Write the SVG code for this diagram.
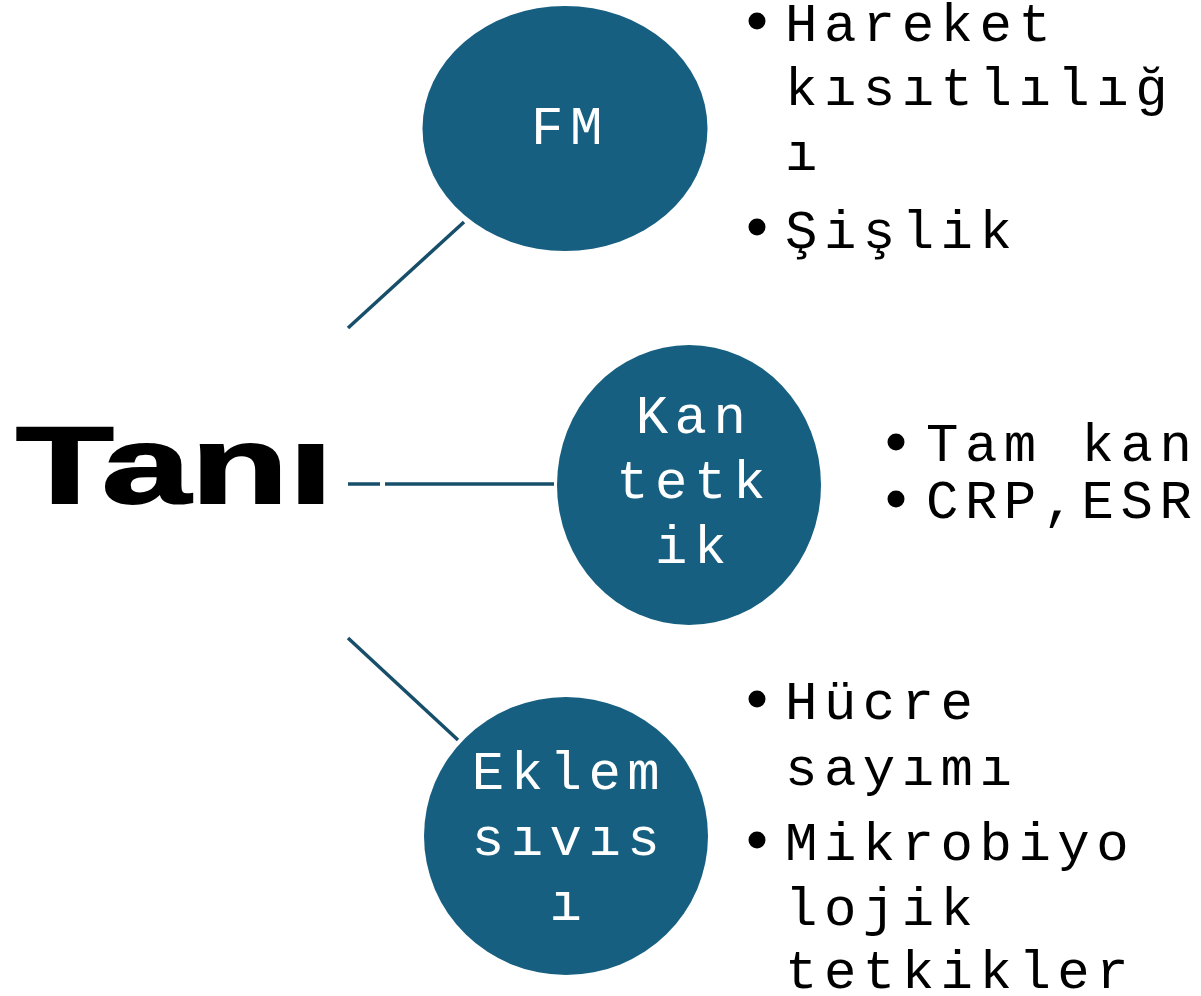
<svg xmlns="http://www.w3.org/2000/svg" width="1201" height="996" viewBox="0 0 1201 996">
  <style>
    .node { fill: #175F80; }
    .ntext { font-family: "Liberation Mono", "Courier New", monospace; font-size: 54px; letter-spacing: 6.5px; fill: #ffffff; text-anchor: middle; }
    .btext { font-family: "Liberation Mono", "Courier New", monospace; font-size: 54px; letter-spacing: 6.5px; fill: #000000; }
    .dot { fill: #000000; }
    .link { stroke: #174F6B; stroke-width: 3.5; fill: none; }
    .title { font-family: "Liberation Sans", Arial, sans-serif; font-weight: bold; font-size: 109px; fill: #000000; stroke: #000000; stroke-width: 2; }
  </style>
  <rect width="1201" height="996" fill="#ffffff"/>

  <!-- root label -->
  <g id="root">
    <text class="title" x="16" y="503" textLength="317" lengthAdjust="spacingAndGlyphs">Tanı</text>
  </g>

  <!-- connectors from the root to the three nodes -->
  <g id="connectors">
    <line class="link" x1="348" y1="328" x2="464" y2="222"/>
    <line class="link" x1="348" y1="484" x2="380" y2="484"/>
    <line class="link" x1="385" y1="484" x2="554" y2="484"/>
    <line class="link" x1="348" y1="638" x2="458" y2="740"/>
  </g>

  <g id="node-fm">
    <ellipse class="node" cx="565" cy="128.5" rx="142.5" ry="122.5"/>
    <text class="ntext" x="570" y="144">FM</text>
  </g>

  <g id="node-kan">
    <ellipse class="node" cx="689" cy="485" rx="132" ry="140"/>
    <text class="ntext" x="694" y="433">Kan</text>
    <text class="ntext" x="694" y="498">tetk</text>
    <text class="ntext" x="694" y="563">ik</text>
  </g>

  <g id="node-eklem">
    <ellipse class="node" cx="566" cy="836" rx="142" ry="139"/>
    <text class="ntext" x="569" y="789">Eklem</text>
    <text class="ntext" x="569" y="855">sıvıs</text>
    <text class="ntext" x="569" y="920">ı</text>
  </g>

  <!-- bullet lists -->
  <g id="list-fm">
    <circle class="dot" cx="757" cy="21" r="8.5"/>
    <text class="btext" x="785" y="41">Hareket</text>
    <text class="btext" x="785" y="105">kısıtlılığ</text>
    <text class="btext" x="785" y="170">ı</text>
    <circle class="dot" cx="757" cy="227" r="8.5"/>
    <text class="btext" x="785" y="248">Şişlik</text>
  </g>

  <g id="list-kan">
    <circle class="dot" cx="896" cy="442" r="8.5"/>
    <text class="btext" x="926" y="461">Tam kan</text>
    <circle class="dot" cx="896" cy="499" r="8.5"/>
    <text class="btext" x="926" y="518">CRP,ESR</text>
  </g>

  <g id="list-eklem">
    <circle class="dot" cx="757" cy="699" r="8.5"/>
    <text class="btext" x="785" y="719">Hücre</text>
    <text class="btext" x="785" y="785">sayımı</text>
    <circle class="dot" cx="757" cy="840" r="8.5"/>
    <text class="btext" x="785" y="860">Mikrobiyo</text>
    <text class="btext" x="785" y="925">lojik</text>
    <text class="btext" x="785" y="988">tetkikler</text>
  </g>
</svg>
